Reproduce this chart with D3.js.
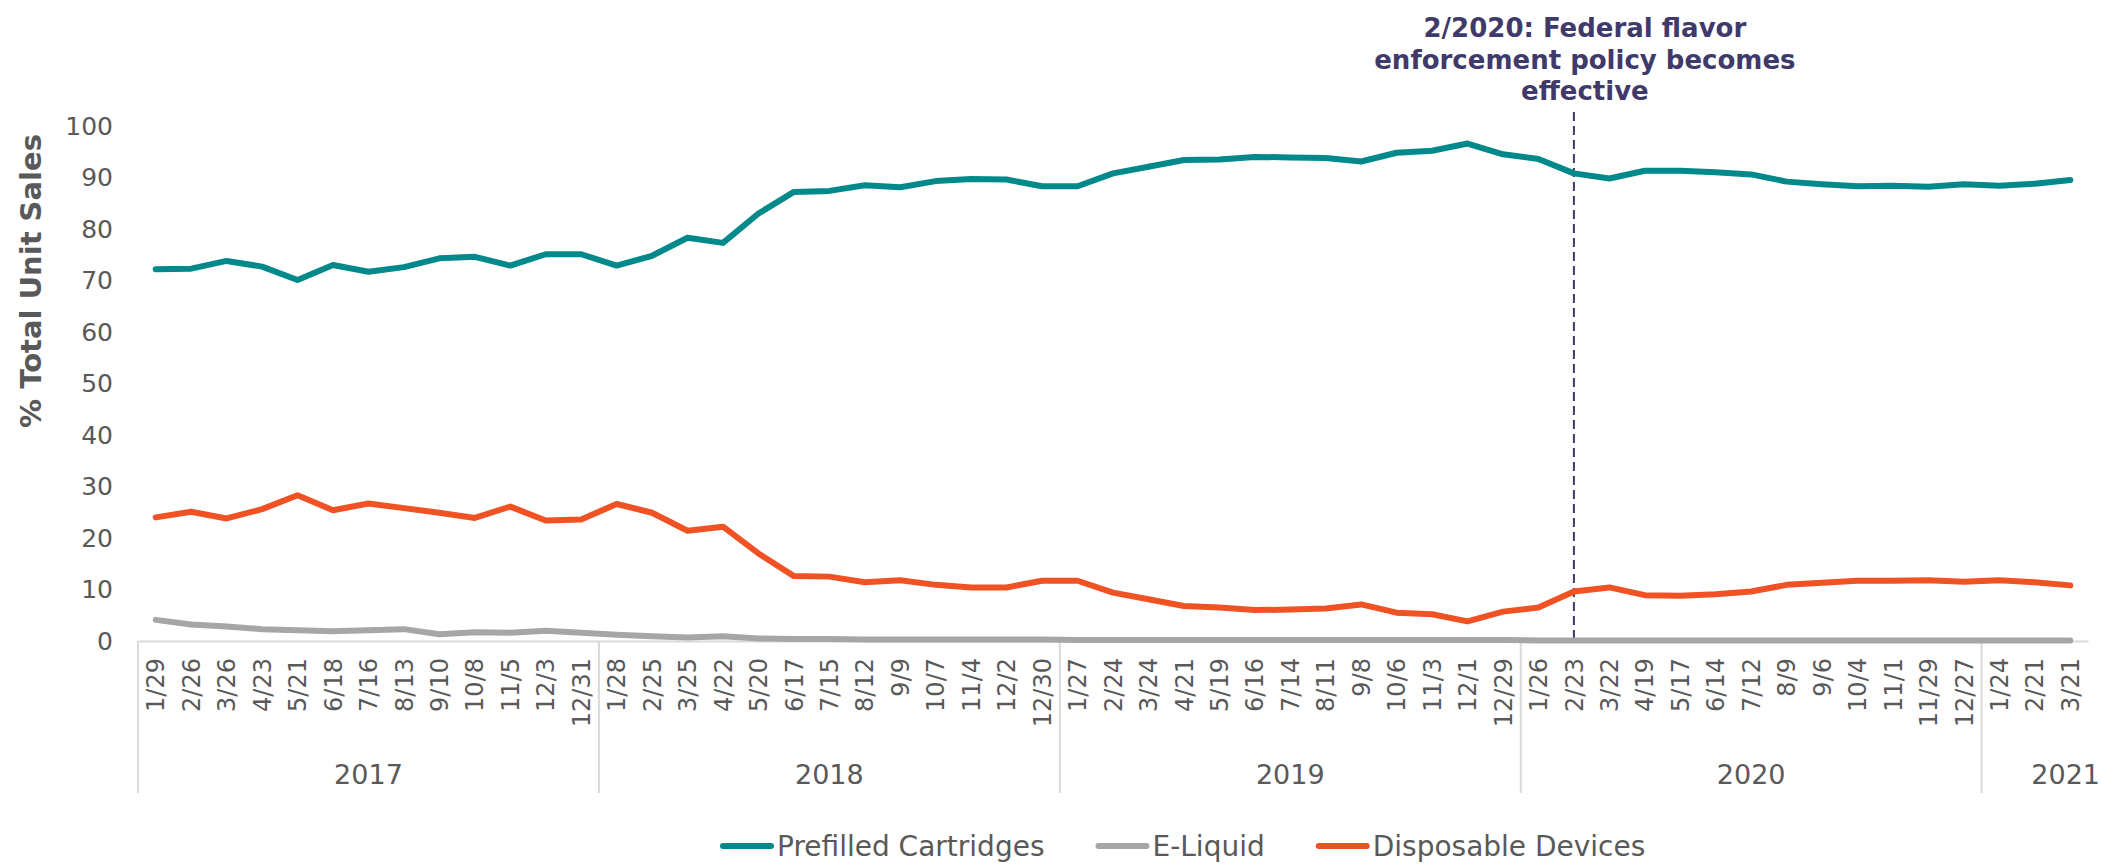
<!DOCTYPE html>
<html>
<head>
<meta charset="utf-8">
<script src="https://cdn.jsdelivr.net/npm/d3@7"></script>
<style>
  html, body { margin: 0; padding: 0; background: #fff; }
  svg text { font-family: "DejaVu Sans", Verdana, sans-serif; fill: #595959; }
</style>
</head>
<body>
<div id="chart"></div>
<script>
// week-ending dates, grouped by year
const years = ['2017', '2018', '2019', '2020', '2021'];
const weeks = [
  ['1/29','2/26','3/26','4/23','5/21','6/18','7/16','8/13','9/10','10/8','11/5','12/3','12/31'],
  ['1/28','2/25','3/25','4/22','5/20','6/17','7/15','8/12','9/9','10/7','11/4','12/2','12/30'],
  ['1/27','2/24','3/24','4/21','5/19','6/16','7/14','8/11','9/8','10/6','11/3','12/1','12/29'],
  ['1/26','2/23','3/22','4/19','5/17','6/14','7/12','8/9','9/6','10/4','11/1','11/29','12/27'],
  ['1/24','2/21','3/21']
];

// % of total unit sales
const prefilled = [
  72.2, 72.3, 73.8, 72.7, 70.1, 73.0, 71.7, 72.6, 74.3, 74.6, 72.9, 75.1, 75.1,
  72.9, 74.8, 78.3, 77.3, 83.0, 87.2, 87.4, 88.5, 88.1, 89.3, 89.7, 89.6, 88.3,
  88.3, 90.8, 92.1, 93.4, 93.5, 94.0, 93.9, 93.8, 93.1, 94.8, 95.2, 96.6, 94.5,
  93.6, 90.8, 89.8, 91.3, 91.3, 91.0, 90.6, 89.2, 88.7, 88.3, 88.4, 88.2, 88.7,
  88.4, 88.8, 89.5
];
const eliquid = [
  4.1, 3.2, 2.8, 2.3, 2.1, 1.9, 2.1, 2.3, 1.3, 1.7, 1.6, 2.0, 1.6,
  1.2, 0.9, 0.7, 0.9, 0.5, 0.4, 0.4, 0.3, 0.3, 0.3, 0.3, 0.3, 0.3,
  0.2, 0.2, 0.2, 0.2, 0.2, 0.2, 0.2, 0.2, 0.2, 0.2, 0.2, 0.2, 0.2,
  0.1, 0.1, 0.1, 0.1, 0.1, 0.1, 0.1, 0.1, 0.1, 0.1, 0.1, 0.1, 0.1,
  0.1, 0.1, 0.1
];
const disposable = [
  24.0, 25.1, 23.8, 25.6, 28.3, 25.4, 26.7, 25.8, 24.9, 23.9, 26.1, 23.4, 23.6,
  26.6, 24.9, 21.4, 22.2, 17.0, 12.6, 12.5, 11.4, 11.8, 10.9, 10.4, 10.4, 11.7,
  11.7, 9.4, 8.1, 6.8, 6.5, 6.0, 6.1, 6.3, 7.1, 5.5, 5.2, 3.8, 5.7,
  6.5, 9.6, 10.4, 8.9, 8.8, 9.1, 9.6, 10.9, 11.3, 11.7, 11.7, 11.8, 11.5,
  11.8, 11.4, 10.8
];
const yTicks = [0, 10, 20, 30, 40, 50, 60, 70, 80, 90, 100];
const policyWeek = '2020-2/23';
const policyText = ['2/2020: Federal flavor', 'enforcement policy becomes', 'effective'];

// build flat category list, key includes year so labels can repeat
const cats = [];
weeks.forEach((w, i) => w.forEach(d => cats.push({ key: years[i] + '-' + d, label: d, year: years[i] })));

const series = [
  { name: 'Prefilled Cartridges', values: prefilled, color: '#00898A' },
  { name: 'E-Liquid', values: eliquid, color: '#A6A6A6' },
  { name: 'Disposable Devices', values: disposable, color: '#F05224' }
];

const W = 2103, H = 866;
const plotLeft = 138, plotRight = 2088, plotTop = 126, plotBottom = 641;

const svg = d3.select('#chart').append('svg')
  .attr('width', W).attr('height', H);

const x = d3.scaleBand().domain(cats.map(c => c.key)).range([plotLeft, plotRight]).padding(0);
const y = d3.scaleLinear().domain([0, 100]).range([plotBottom, plotTop]);
const cx = k => x(k) + x.bandwidth() / 2;

// y axis (labels only)
const yAxisG = svg.append('g')
  .attr('transform', `translate(${plotLeft},0)`)
  .call(d3.axisLeft(y).tickValues(yTicks).tickSize(0).tickPadding(25));
yAxisG.select('.domain').remove();
yAxisG.selectAll('text')
  .attr('font-size', 25)
  .attr('fill', '#595959')
  .attr('font-family', '"DejaVu Sans", Verdana, sans-serif');

// y title
svg.append('text')
  .attr('transform', 'translate(31,281) rotate(-90)')
  .attr('text-anchor', 'middle')
  .attr('dy', '0.35em')
  .attr('font-size', 29)
  .attr('font-weight', 'bold')
  .text('% Total Unit Sales');

// x axis
const xAxisG = svg.append('g')
  .attr('transform', `translate(0,${plotBottom})`)
  .call(d3.axisBottom(x).tickSize(0).tickFormat(k => cats.find(c => c.key === k).label));
xAxisG.select('.domain')
  .attr('stroke', '#d9d9d9').attr('stroke-width', 2);
xAxisG.selectAll('text')
  .attr('font-size', 24)
  .attr('fill', '#595959')
  .attr('font-family', '"DejaVu Sans", Verdana, sans-serif')
  .attr('text-anchor', 'end')
  .attr('transform', 'rotate(-90)')
  .attr('x', -17)
  .attr('y', 0)
  .attr('dy', '0.36em');

// year group separators and labels
let start = 0;
const groupG = svg.append('g');
years.forEach((yr, i) => {
  const first = cats[start].key;
  const last = cats[start + weeks[i].length - 1].key;
  const x0 = x(first), x1 = x(last) + x.bandwidth();
  groupG.append('line')
    .attr('x1', x0).attr('x2', x0)
    .attr('y1', plotBottom).attr('y2', 793)
    .attr('stroke', '#d9d9d9').attr('stroke-width', 2);
  const isLast = i === years.length - 1;
  groupG.append('text')
    .attr('x', isLast ? W - 3 : (x0 + x1) / 2)
    .attr('y', 775)
    .attr('dy', '0.35em')
    .attr('text-anchor', isLast ? 'end' : 'middle')
    .attr('font-size', 27)
    .text(yr);
  start += weeks[i].length;
});

// policy marker
const px = cx(policyWeek);
svg.append('line')
  .attr('x1', px).attr('x2', px)
  .attr('y1', 112).attr('y2', plotBottom)
  .attr('stroke', '#3F3A6A')
  .attr('stroke-width', 2)
  .attr('stroke-dasharray', '9,5');
svg.append('g').selectAll('text')
  .data(policyText)
  .join('text')
    .attr('x', px + 11)
    .attr('y', (d, i) => 37 + i * 31.5)
    .attr('text-anchor', 'middle')
    .attr('font-size', 26)
    .attr('font-weight', 'bold')
    .style('fill', '#3F3A6A')
    .text(d => d);

// lines
const line = d3.line()
  .x((d, i) => cx(cats[i].key))
  .y(d => y(d));
svg.append('g').selectAll('path')
  .data(series)
  .join('path')
    .attr('d', s => line(s.values))
    .attr('fill', 'none')
    .attr('stroke', s => s.color)
    .attr('stroke-width', 6)
    .attr('stroke-linejoin', 'round')
    .attr('stroke-linecap', 'round');

// legend
const legend = svg.append('g').attr('transform', 'translate(720,846)');
let lx = 0;
series.forEach(s => {
  legend.append('line')
    .attr('x1', lx + 3).attr('x2', lx + 51)
    .attr('y1', 0).attr('y2', 0)
    .attr('stroke', s.color).attr('stroke-width', 6)
    .attr('stroke-linecap', 'round');
  const t = legend.append('text')
    .attr('x', lx + 57)
    .attr('y', 0)
    .attr('dy', '0.35em')
    .attr('font-size', 28)
    .text(s.name);
  lx += 57 + t.node().getComputedTextLength() + 51;
});
</script>
</body>
</html>
